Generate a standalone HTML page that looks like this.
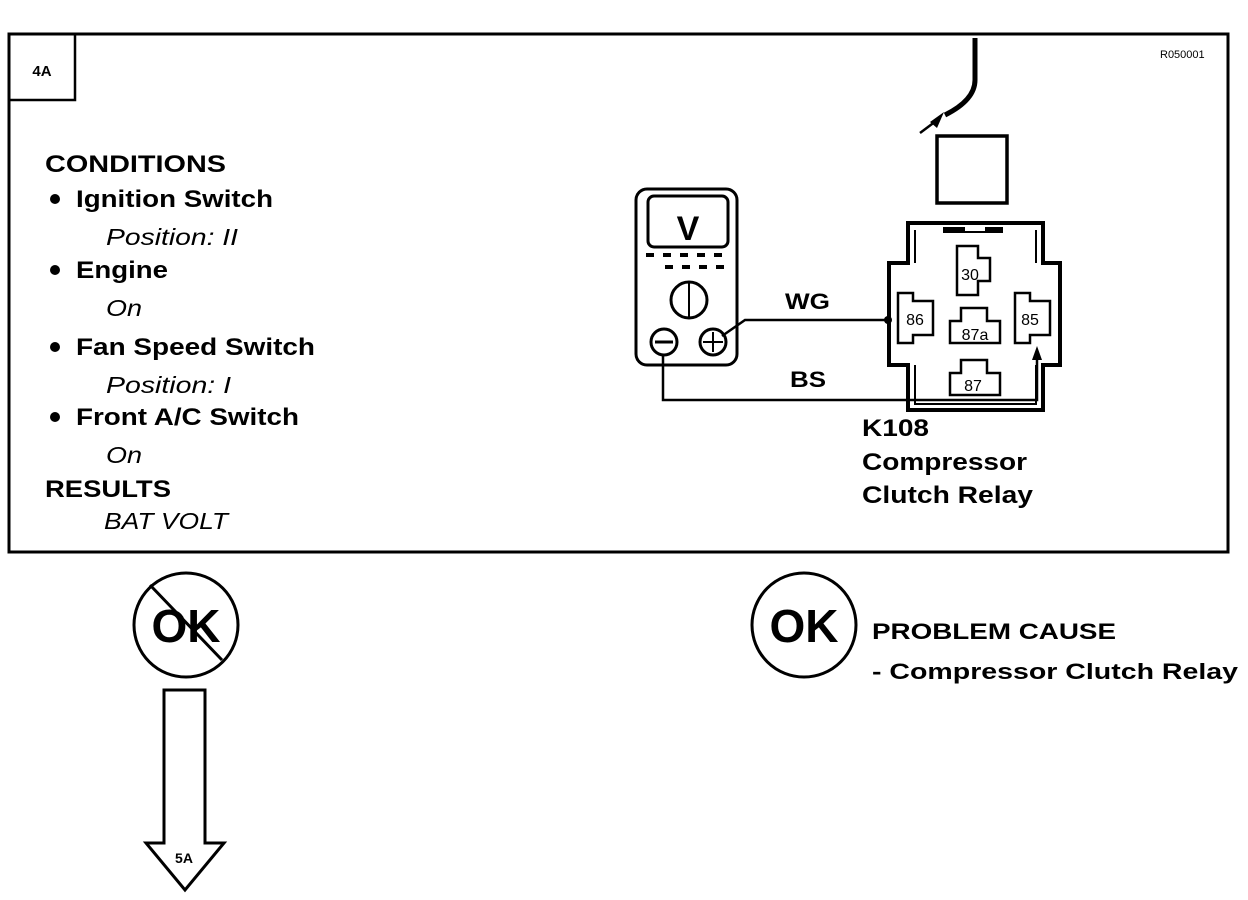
<!DOCTYPE html>
<html><head><style>
html,body{margin:0;padding:0;background:#fff;width:1248px;height:900px;overflow:hidden}
svg text{font-family:"Liberation Sans",Arial,sans-serif;fill:#000}
.b{font-weight:bold}
</style></head><body>
<svg width="1248" height="900" viewBox="0 0 1248 900" xmlns="http://www.w3.org/2000/svg">
<rect x="9" y="34" width="1219" height="518" fill="none" stroke="#000" stroke-width="3"/>
<path d="M9 100 H75 V34" fill="none" stroke="#000" stroke-width="2.5"/>
<text x="42" y="76" class="b" font-size="15" text-anchor="middle">4A</text>
<text x="1160" y="58" font-size="11">R050001</text>

<g font-size="24" class="b" lengthAdjust="spacingAndGlyphs">
<text x="45" y="172" textLength="181" lengthAdjust="spacingAndGlyphs">CONDITIONS</text>
<text x="76" y="207" textLength="197" lengthAdjust="spacingAndGlyphs">Ignition Switch</text>
<text x="76" y="278" textLength="92" lengthAdjust="spacingAndGlyphs">Engine</text>
<text x="76" y="355" textLength="239" lengthAdjust="spacingAndGlyphs">Fan Speed Switch</text>
<text x="76" y="425" textLength="223" lengthAdjust="spacingAndGlyphs">Front A/C Switch</text>
<text x="45" y="497" textLength="126" lengthAdjust="spacingAndGlyphs">RESULTS</text>
</g>
<g fill="#000"><circle cx="55" cy="199" r="5"/><circle cx="55" cy="270" r="5"/><circle cx="55" cy="347" r="5"/><circle cx="55" cy="417" r="5"/></g>
<g font-size="23" font-style="italic">
<text x="106" y="245" textLength="132" lengthAdjust="spacingAndGlyphs">Position: II</text>
<text x="106" y="316" textLength="36" lengthAdjust="spacingAndGlyphs">On</text>
<text x="106" y="393" textLength="125" lengthAdjust="spacingAndGlyphs">Position: I</text>
<text x="106" y="463" textLength="36" lengthAdjust="spacingAndGlyphs">On</text>
<text x="104" y="529" textLength="124" lengthAdjust="spacingAndGlyphs">BAT VOLT</text>
</g>

<!-- multimeter -->
<rect x="636" y="189" width="101" height="176" rx="11" fill="none" stroke="#000" stroke-width="3"/>
<rect x="648" y="196" width="80" height="51" rx="6" fill="none" stroke="#000" stroke-width="3"/>
<text x="688" y="240" class="b" font-size="34" text-anchor="middle">V</text>
<g fill="#000">
<rect x="646" y="253" width="8" height="4"/><rect x="663" y="253" width="8" height="4"/><rect x="680" y="253" width="8" height="4"/><rect x="697" y="253" width="8" height="4"/><rect x="714" y="253" width="8" height="4"/>
<rect x="665" y="265" width="8" height="4"/><rect x="682" y="265" width="8" height="4"/><rect x="699" y="265" width="8" height="4"/><rect x="716" y="265" width="8" height="4"/>
</g>
<circle cx="689" cy="300" r="18" fill="none" stroke="#000" stroke-width="3"/>
<line x1="689" y1="283" x2="689" y2="317" stroke="#000" stroke-width="2"/>
<circle cx="664" cy="342" r="13" fill="none" stroke="#000" stroke-width="3"/>
<line x1="655" y1="342" x2="673" y2="342" stroke="#000" stroke-width="3"/>
<circle cx="713" cy="342" r="13" fill="none" stroke="#000" stroke-width="3"/>
<line x1="703" y1="342" x2="723" y2="342" stroke="#000" stroke-width="2"/>
<line x1="713" y1="332" x2="713" y2="352" stroke="#000" stroke-width="2"/>

<!-- wires -->
<path d="M722 336 L745 320 H888" fill="none" stroke="#000" stroke-width="2.5"/>
<circle cx="888" cy="320" r="4" fill="#000"/>
<text x="785" y="309" class="b" font-size="22" textLength="45" lengthAdjust="spacingAndGlyphs">WG</text>
<path d="M663 355 V400 H1037 V358" fill="none" stroke="#000" stroke-width="2.5"/>
<path d="M1032 360 L1037 346 L1042 360 Z" fill="#000"/>
<text x="790" y="387" class="b" font-size="22" textLength="36" lengthAdjust="spacingAndGlyphs">BS</text>

<!-- relay -->
<path d="M908 223 H1043 V263 H1060 V365 H1043 V410 H908 V365 H889 V263 H908 Z" fill="none" stroke="#000" stroke-width="4"/>
<path d="M915 230 V263 M1036 230 V263 M915 365 V404 H1036 V365" fill="none" stroke="#000" stroke-width="2"/>
<path d="M943 230 H965 M985 230 H1003" stroke="#000" stroke-width="6"/>
<line x1="965" y1="232" x2="985" y2="232" stroke="#000" stroke-width="2"/>
<g fill="none" stroke="#000" stroke-width="2.5">
<path d="M957 246 H978 V258 H990 V281 H978 V295 H957 Z"/>
<path d="M898 293 H913 V301 H933 V335 H913 V343 H898 Z"/>
<path d="M961 308 H987 V321 H1000 V343 H950 V321 H961 Z"/>
<path d="M1015 293 H1030 V301 H1050 V335 H1030 V343 H1015 Z"/>
<path d="M961 360 H987 V373 H1000 V395 H950 V373 H961 Z"/>
</g>
<g font-size="16">
<text x="970" y="280" text-anchor="middle">30</text>
<text x="915" y="325" text-anchor="middle">86</text>
<text x="975" y="340" text-anchor="middle">87a</text>
<text x="1030" y="325" text-anchor="middle">85</text>
<text x="973" y="391" text-anchor="middle">87</text>
</g>
<rect x="937" y="136" width="70" height="67" fill="none" stroke="#000" stroke-width="3.5"/>
<path d="M975 38 V80 Q975 100 945 115" fill="none" stroke="#000" stroke-width="5"/>
<path d="M940 118 L920 133" stroke="#000" stroke-width="2.5"/>
<path d="M944 112 L930 122 L937 128 Z" fill="#000"/>

<g font-size="24" class="b">
<text x="862" y="436" textLength="67" lengthAdjust="spacingAndGlyphs">K108</text>
<text x="862" y="470" textLength="165" lengthAdjust="spacingAndGlyphs">Compressor</text>
<text x="862" y="503" textLength="171" lengthAdjust="spacingAndGlyphs">Clutch Relay</text>
</g>

<!-- not ok -->
<circle cx="186" cy="625" r="52" fill="none" stroke="#000" stroke-width="3"/>
<text x="186" y="642" class="b" font-size="46" text-anchor="middle">OK</text>
<line x1="150" y1="585" x2="222" y2="660" stroke="#000" stroke-width="3"/>
<path d="M164 690 H205 V843 H224 L185 890 L146 843 H164 Z" fill="#fff" stroke="#000" stroke-width="3"/>
<text x="184" y="863" class="b" font-size="14" text-anchor="middle">5A</text>

<!-- ok -->
<circle cx="804" cy="625" r="52" fill="none" stroke="#000" stroke-width="3"/>
<text x="804" y="642" class="b" font-size="46" text-anchor="middle">OK</text>
<text x="872" y="639" class="b" font-size="22" textLength="244" lengthAdjust="spacingAndGlyphs">PROBLEM CAUSE</text>
<text x="872" y="679" class="b" font-size="22" textLength="366" lengthAdjust="spacingAndGlyphs">- Compressor Clutch Relay</text>
</svg>
</body></html>
